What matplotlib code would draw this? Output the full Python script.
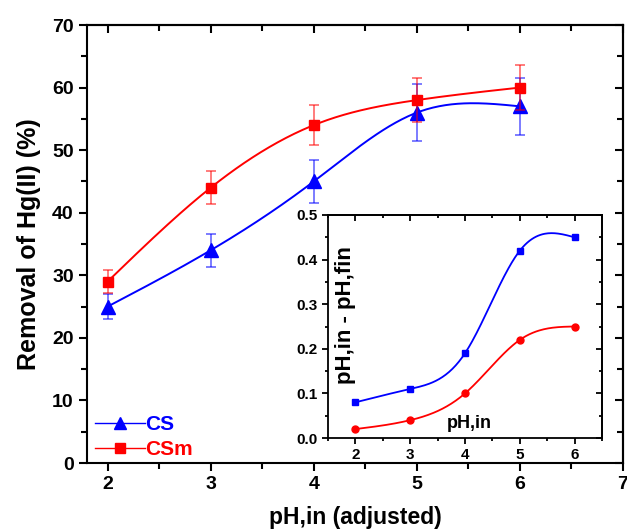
import numpy as np
import matplotlib.pyplot as plt
from matplotlib.ticker import MultipleLocator

plt.rcParams['font.family'] = ['Liberation Sans', 'DejaVu Sans']
plt.rcParams['font.weight'] = 'bold'

ph = [2, 3, 4, 5, 6]
cs = [25, 34, 45, 56, 57]
cs_err = [2.0, 2.6, 3.5, 4.5, 4.6]
csm = [29, 44, 54, 58, 60]
csm_err = [1.8, 2.6, 3.2, 3.5, 3.6]

dph_cs = [0.08, 0.11, 0.19, 0.42, 0.45]
dph_csm = [0.02, 0.04, 0.10, 0.22, 0.25]


def spline(x, y, n=200):
    # natural cubic spline through the points
    x = np.asarray(x, float)
    y = np.asarray(y, float)
    k = len(x)
    h = np.diff(x)
    A = np.zeros((k, k))
    b = np.zeros(k)
    A[0, 0] = A[-1, -1] = 1
    for i in range(1, k - 1):
        A[i, i - 1] = h[i - 1]
        A[i, i] = 2 * (h[i - 1] + h[i])
        A[i, i + 1] = h[i]
        b[i] = 6 * ((y[i + 1] - y[i]) / h[i] - (y[i] - y[i - 1]) / h[i - 1])
    m = np.linalg.solve(A, b)
    xs = np.linspace(x[0], x[-1], n)
    idx = np.clip(np.searchsorted(x, xs) - 1, 0, k - 2)
    t0 = xs - x[idx]
    t1 = x[idx + 1] - xs
    hh = h[idx]
    ys = (m[idx] * t1 ** 3 + m[idx + 1] * t0 ** 3) / (6 * hh) \
        + (y[idx] / hh - m[idx] * hh / 6) * t1 \
        + (y[idx + 1] / hh - m[idx + 1] * hh / 6) * t0
    return xs, ys


def style_axes(a, xmaj, xmin, ymaj, ymin, lmaj, lmin, lw, size):
    a.xaxis.set_major_locator(MultipleLocator(xmaj))
    a.xaxis.set_minor_locator(MultipleLocator(xmin))
    a.yaxis.set_major_locator(MultipleLocator(ymaj))
    a.yaxis.set_minor_locator(MultipleLocator(ymin))
    a.tick_params(which='both', direction='out', width=lw)
    a.tick_params(which='major', length=lmaj, labelsize=size)
    a.tick_params(which='minor', length=lmin)
    for s in a.spines.values():
        s.set_linewidth(lw)
    # inward ticks on top and right
    top = a.secondary_xaxis('top')
    top.xaxis.set_major_locator(MultipleLocator(xmaj))
    top.xaxis.set_minor_locator(MultipleLocator(xmin))
    top.tick_params(which='both', direction='in', labeltop=False, width=lw)
    top.tick_params(which='major', length=lmaj)
    top.tick_params(which='minor', length=lmin)
    right = a.secondary_yaxis('right')
    right.yaxis.set_major_locator(MultipleLocator(ymaj))
    right.yaxis.set_minor_locator(MultipleLocator(ymin))
    right.tick_params(which='both', direction='in', labelright=False, width=lw)
    right.tick_params(which='major', length=lmaj)
    right.tick_params(which='minor', length=lmin)
    for s in list(top.spines.values()) + list(right.spines.values()):
        s.set_linewidth(lw)


fig = plt.figure(figsize=(6.27, 5.29), dpi=100)
ax = fig.add_axes([87 / 627, 1 - 463 / 529, 536 / 627, 438 / 529])

for yv, err, col, mk, ms, lab in [(cs, cs_err, 'blue', '^', 10, 'CS'),
                                  (csm, csm_err, 'red', 's', 7.5, 'CSm')]:
    xs, ys = spline(ph, yv)
    ax.plot(xs, ys, color=col, lw=1.4)
    ax.errorbar(ph, yv, yerr=err, fmt='none', ecolor=col, elinewidth=1.2,
                capsize=3.5, capthick=1.2, alpha=0.6)
    ax.plot(ph, yv, color=col, marker=mk, ms=ms, lw=0, label=lab)

ax.set_xlim(1.8, 7)
ax.set_ylim(0, 70)
style_axes(ax, 1, 0.5, 10, 5, 6, 4, 1.5, 14)
ax.set_xlabel('pH,in (adjusted)', fontsize=16.5, fontweight='bold', labelpad=9)
ax.set_ylabel('Removal of Hg(II) (%)', fontsize=18, fontweight='bold', labelpad=8)

h1, = ax.plot([], [], color='blue', marker='^', ms=8, lw=1)
h2, = ax.plot([], [], color='red', marker='s', ms=6.5, lw=1)
leg = ax.legend([h1, h2], ['CS', 'CSm'], loc='lower left', frameon=False,
                fontsize=15, handlelength=2.4, handletextpad=0.0,
                borderaxespad=0.0, labelspacing=0.3,
                bbox_to_anchor=(0.0, -0.01))
for t, c in zip(leg.get_texts(), ['blue', 'red']):
    t.set_color(c)

# inset
ins = fig.add_axes([328 / 627, 1 - 438 / 529, 274 / 627, 223 / 529])
xs, ys = spline(ph, dph_cs)
ins.plot(xs, ys, color='blue', lw=1.3)
ins.plot(ph, dph_cs, 's', color='blue', ms=4.5)
xs, ys = spline(ph, dph_csm)
ins.plot(xs, ys, color='red', lw=1.3)
ins.plot(ph, dph_csm, 'o', color='red', ms=5)
ins.set_xlim(1.5, 6.5)
ins.set_ylim(0, 0.5)
style_axes(ins, 1, 0.5, 0.1, 0.05, 4, 2.5, 1.3, 11)
ins.text(0.063, 0.55, 'pH,in - pH,fin', transform=ins.transAxes, rotation=90,
         fontsize=16, fontweight='bold', ha='center', va='center')
ins.text(4.08, 0.033, 'pH,in', fontsize=13, fontweight='bold', ha='center',
         va='center')

fig.savefig('out.png', dpi=100)
